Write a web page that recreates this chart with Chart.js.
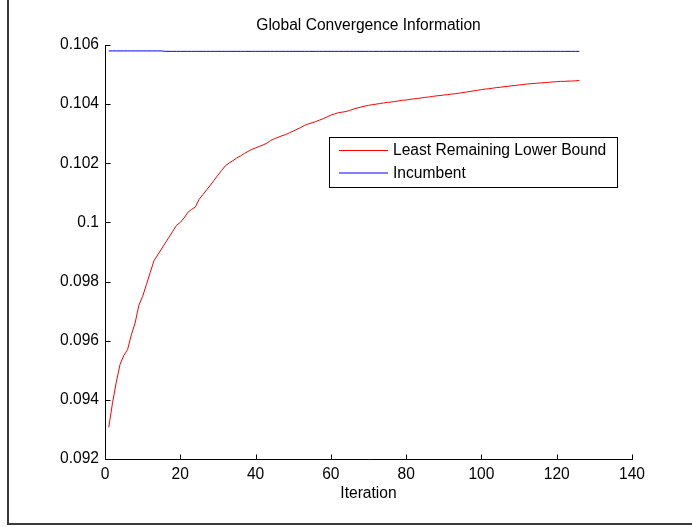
<!DOCTYPE html>
<html>
<head>
<meta charset="utf-8">
<script src="https://cdn.jsdelivr.net/npm/chart.js@4.4.1/dist/chart.umd.min.js"></script>
<style>
  html, body { margin: 0; padding: 0; background: #fff; }
  canvas { display: block; }
</style>
</head>
<body>
<canvas id="convChart" width="692" height="527"></canvas>
<script>
// Dados
const iterations = Array.from({ length: 126 }, (_, i) => i + 1);

const lowerBound = [
    0.09307, 0.0939, 0.0946, 0.0952, 0.0955, 0.0957, 0.0962, 0.0966, 0.0972, 0.0975,
    0.0979, 0.0983, 0.0987, 0.0989, 0.0991, 0.0993, 0.0995, 0.0997, 0.0999, 0.1000,
    0.10015, 0.10034, 0.10044, 0.10052, 0.10078, 0.10094, 0.1011, 0.10126, 0.10143, 0.1016,
    0.10176, 0.10192, 0.10201, 0.10209, 0.10218, 0.10225, 0.10233, 0.1024, 0.10247, 0.10252,
    0.10257, 0.10262, 0.10268, 0.10277, 0.10283, 0.10288, 0.10293, 0.10297, 0.10303, 0.10309,
    0.10315, 0.10321, 0.10328, 0.10333, 0.10337, 0.10341, 0.10346, 0.10351, 0.10357, 0.10363,
    0.10367, 0.10371, 0.10373, 0.10375, 0.10379, 0.10383, 0.10387, 0.1039, 0.10393, 0.10396,
    0.10398, 0.104, 0.10402, 0.10404, 0.10406, 0.10407, 0.10409, 0.10411, 0.10413, 0.10414,
    0.10416, 0.10418, 0.10419, 0.10421, 0.10423, 0.10424, 0.10426, 0.10428, 0.10429, 0.10431,
    0.10432, 0.10434, 0.10435, 0.10437, 0.10439, 0.10441, 0.10443, 0.10445, 0.10447, 0.10449,
    0.10451, 0.10452, 0.10454, 0.10456, 0.10457, 0.10459, 0.1046, 0.10462, 0.10463, 0.10465,
    0.10466, 0.10468, 0.10469, 0.1047, 0.10471, 0.10472, 0.10473, 0.10474, 0.10475, 0.10476,
    0.10477, 0.10477, 0.10478, 0.10478, 0.10479, 0.1048
];

const incumbent = [
    0.1058, 0.1058, 0.1058, 0.1058, 0.1058, 0.1058, 0.1058, 0.1058, 0.1058, 0.1058,
    0.1058, 0.1058, 0.1058, 0.1058, 0.1058, 0.105785, 0.105785, 0.105785, 0.105785, 0.105785,
    0.105785, 0.105785, 0.105785, 0.105785, 0.105785, 0.105785, 0.105785, 0.105785, 0.105785, 0.105785,
    0.105785, 0.105785, 0.105785, 0.105785, 0.105785, 0.105785, 0.105785, 0.105785, 0.105785, 0.105785,
    0.105785, 0.105785, 0.105785, 0.105785, 0.105785, 0.105785, 0.105785, 0.105785, 0.105785, 0.105785,
    0.105785, 0.105785, 0.105785, 0.105785, 0.105785, 0.105785, 0.105785, 0.105785, 0.105785, 0.105785,
    0.105785, 0.105785, 0.105785, 0.105785, 0.105785, 0.105785, 0.105785, 0.105785, 0.105785, 0.105785,
    0.105785, 0.105785, 0.105785, 0.105785, 0.105785, 0.105785, 0.105785, 0.105785, 0.105785, 0.105785,
    0.105785, 0.105785, 0.105785, 0.105785, 0.105785, 0.105785, 0.105785, 0.105785, 0.105785, 0.105785,
    0.105785, 0.105785, 0.105785, 0.105785, 0.105785, 0.105785, 0.105785, 0.105785, 0.105785, 0.105785,
    0.105785, 0.105785, 0.105785, 0.105785, 0.105785, 0.105785, 0.105785, 0.105785, 0.105785, 0.105785,
    0.105785, 0.105785, 0.105785, 0.105785, 0.105785, 0.105785, 0.105785, 0.105785, 0.105785, 0.105785,
    0.105785, 0.105785, 0.105785, 0.105785, 0.105785, 0.105785
];

const xTicks = [0, 20, 40, 60, 80, 100, 120, 140];
const xTickLabels = ['0', '20', '40', '60', '80', '100', '120', '140'];
const yTicks = [0.092, 0.094, 0.096, 0.098, 0.100, 0.102, 0.104, 0.106];
const yTickLabels = ['0.092', '0.094', '0.096', '0.098', '0.1', '0.102', '0.104', '0.106'];

const chartTitle = 'Global Convergence Information';
const xTitle = 'Iteration';
const seriesNames = ['Least Remaining Lower Bound', 'Incumbent'];

const FONT = '"Liberation Sans", Arial, sans-serif';
const FONT_SIZE = 15.6;

// Desenha eixos estilo MATLAB, título, legenda e moldura
const matlabFrame = {
    id: 'matlabFrame',
    afterDraw(chart) {
        const { ctx, chartArea: a, scales: { x, y } } = chart;
        ctx.save();

        // eixos
        ctx.strokeStyle = '#000';
        ctx.lineWidth = 1;
        ctx.beginPath();
        ctx.moveTo(a.left + 0.5, a.top);
        ctx.lineTo(a.left + 0.5, a.bottom + 0.5);
        ctx.lineTo(a.right + 1, a.bottom + 0.5);
        ctx.stroke();

        // marcas para dentro
        ctx.beginPath();
        xTicks.forEach(v => {
            const px = Math.round(x.getPixelForValue(v)) + 0.5;
            ctx.moveTo(px, a.bottom + 0.5);
            ctx.lineTo(px, a.bottom - 4.5);
        });
        yTicks.forEach(v => {
            const py = Math.round(y.getPixelForValue(v)) + 0.5;
            ctx.moveTo(a.left + 0.5, py);
            ctx.lineTo(a.left + 5.5, py);
        });
        ctx.stroke();

        ctx.fillStyle = '#000';
        ctx.font = FONT_SIZE + 'px ' + FONT;
        ctx.textAlign = 'center';
        ctx.textBaseline = 'middle';
        ctx.fillText(chartTitle, (a.left + a.right) / 2, 26);
        ctx.fillText(xTitle, (a.left + a.right) / 2, 494);

        // legenda
        const lx = 329, ly = 137, lw = 288, lh = 50;
        ctx.fillStyle = '#fff';
        ctx.fillRect(lx, ly, lw, lh);
        ctx.strokeStyle = '#000';
        ctx.strokeRect(lx + 0.5, ly + 0.5, lw, lh);
        const sampleY = [150.5, 173];
        chart.data.datasets.forEach((ds, i) => {
            const yy = sampleY[i];
            ctx.strokeStyle = ds.borderColor;
            ctx.beginPath();
            ctx.moveTo(339, yy);
            ctx.lineTo(388, yy);
            ctx.stroke();
            ctx.fillStyle = '#000';
            ctx.textAlign = 'left';
            ctx.fillText(ds.label, 393, 151 + i * 23);
        });

        // moldura da figura
        ctx.fillStyle = '#3a3a3a';
        ctx.fillRect(7, 0, 2, 525);
        ctx.fillRect(7, 523, 685, 2);
        ctx.restore();
    }
};

const whiteBg = {
    id: 'whiteBg',
    beforeDraw(chart) {
        const ctx = chart.ctx;
        ctx.save();
        ctx.fillStyle = '#fff';
        ctx.fillRect(0, 0, chart.width, chart.height);
        ctx.restore();
    }
};

const config = {
    type: 'line',
    data: {
        datasets: [{
            label: seriesNames[0],
            data: iterations.map((it, i) => ({ x: it, y: lowerBound[i] })),
            borderColor: '#ff0000',
            borderWidth: 1,
            pointRadius: 0,
            tension: 0,
            fill: false
        }, {
            label: seriesNames[1],
            data: iterations.map((it, i) => ({ x: it, y: incumbent[i] })),
            borderColor: '#0000ff',
            borderWidth: 1,
            pointRadius: 0,
            tension: 0,
            fill: false
        }]
    },
    options: {
        responsive: false,
        animation: false,
        devicePixelRatio: 1,
        layout: { padding: { left: 0, top: 45, right: 60, bottom: 0 } },
        plugins: {
            legend: { display: false },
            title: { display: false },
            tooltip: { enabled: false }
        },
        scales: {
            x: {
                type: 'linear',
                min: 0,
                max: 140,
                grid: { display: false, drawTicks: false },
                border: { display: false },
                afterBuildTicks: (scale) => { scale.ticks = xTicks.map(v => ({ value: v })); },
                afterFit: (scale) => { scale.height = 68; },
                ticks: {
                    padding: 6,
                    maxRotation: 0,
                    color: '#000',
                    font: { family: FONT, size: FONT_SIZE },
                    callback: (value, index) => xTickLabels[index]
                }
            },
            y: {
                min: 0.092,
                max: 0.106,
                grid: { display: false, drawTicks: false },
                border: { display: false },
                afterBuildTicks: (scale) => { scale.ticks = yTicks.map(v => ({ value: v })); },
                afterFit: (scale) => { scale.width = 105; },
                ticks: {
                    padding: 6,
                    color: '#000',
                    font: { family: FONT, size: FONT_SIZE },
                    callback: (value, index) => yTickLabels[index]
                }
            }
        }
    },
    plugins: [whiteBg, matlabFrame]
};

const ctx = document.getElementById('convChart').getContext('2d');
const convChart = new Chart(ctx, config);
</script>
</body>
</html>
